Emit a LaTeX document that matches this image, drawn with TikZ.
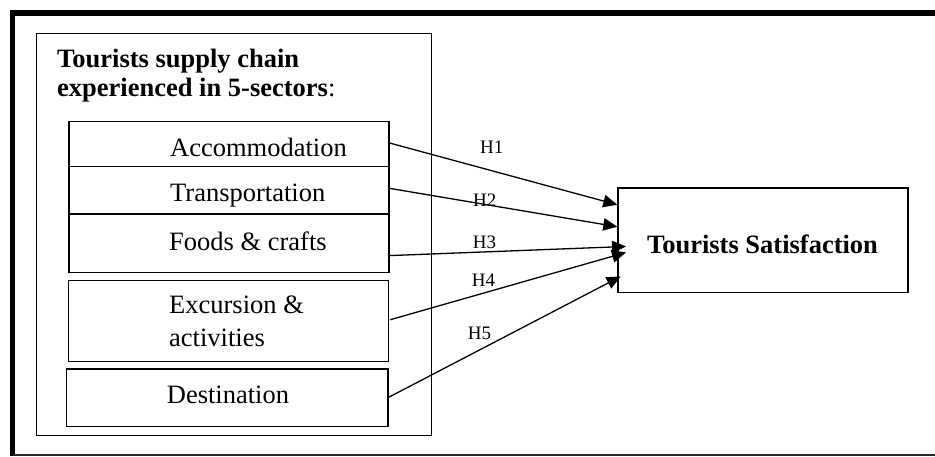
\documentclass[tikz,border=0pt]{standalone}
\usepackage{fontspec}
\setmainfont{Liberation Serif}
\usetikzlibrary{arrows.meta}
\begin{document}
\begin{tikzpicture}[x=1pt,y=-1pt,
  sbox/.style={draw, line width=1.3pt, rectangle, inner sep=0pt, anchor=north west},
  lbl/.style={inner sep=0pt, anchor=base west, font=\fontsize{26.5}{29}\selectfont},
  hyp/.style={inner sep=0pt, anchor=base west, font=\fontsize{19}{21}\selectfont},
  arr/.style={line width=1.3pt, -{Triangle[length=14pt,width=12.5pt]}}]
\useasboundingbox (0,0) rectangle (935,456);
% outer frame (cropped)
\draw[line width=5.5pt, line join=miter] (935,12.8) -- (12.5,12.8) -- (12.5,456);
\draw[line width=1.5pt, draw=black!85] (12.5,454.8) -- (935,454.8);
% inner container
\node[sbox, line width=1.2pt, minimum width=395pt, minimum height=402pt] (inner) at (36,33) {};
\node[lbl, align=left, anchor=base west] (title) at (57,96.7) {\textbf{Tourists supply chain}\\\textbf{experienced in 5-sectors}:};
% sector boxes
\node[sbox, minimum width=320pt, minimum height=44.7pt] (acc) at (68.3,121) {};
\node[sbox, minimum width=320pt, minimum height=47.6pt] (tra) at (68.3,165.7) {};
\node[sbox, minimum width=320pt, minimum height=58.4pt] (foo) at (68.3,213.3) {};
\node[sbox, minimum width=320.3pt, minimum height=80.7pt] (exc) at (67.7,280) {};
\node[sbox, minimum width=321.3pt, minimum height=57.7pt] (des) at (66,368.3) {};
\node[lbl] (acct) at (170,156.7) {Accommodation};
\node[lbl] (trat) at (170,201.7) {Transportation};
\node[lbl] (foot) at (169,250) {Foods \& crafts};
\node[lbl, align=left, font=\fontsize{26.5}{33.7}\selectfont] (exct) at (169,346.7) {Excursion \&\\activities};
\node[lbl] (dest) at (166.7,403.3) {Destination};
% satisfaction
\node[sbox, line width=1.5pt, minimum width=290pt, minimum height=104.4pt] (sat) at (617.3,187.3) {};
\node[lbl, anchor=base] (satt) at (762.5,253.3) {\textbf{Tourists Satisfaction}};
% arrows
\draw[arr] ([yshift=1pt]acc.east) -- ([yshift=35.5pt]sat.west);
\draw[arr] ([yshift=1.8pt]tra.east) -- ([yshift=13.5pt]sat.west);
\draw[arr] ([xshift=-1.6pt,yshift=-12.5pt]foo.east) -- ([xshift=8.7pt,yshift=-6.2pt]sat.west);
\draw[arr] ([xshift=1pt,yshift=1.3pt]exc.east) -- ([xshift=8.7pt,yshift=-12.2pt]sat.west);
\draw[arr] ([yshift=0.5pt]des.east) -- ([xshift=3.4pt,yshift=-36.2pt]sat.west);
% hypothesis labels
\node[hyp] (h1) at (480,153.3) {H1};
\node[hyp] (h2) at (473,206) {H2};
\node[hyp] (h3) at (472.7,248.3) {H3};
\node[hyp] (h4) at (471.7,286.7) {H4};
\node[hyp] (h5) at (467.7,339.3) {H5};
\end{tikzpicture}
\end{document}
